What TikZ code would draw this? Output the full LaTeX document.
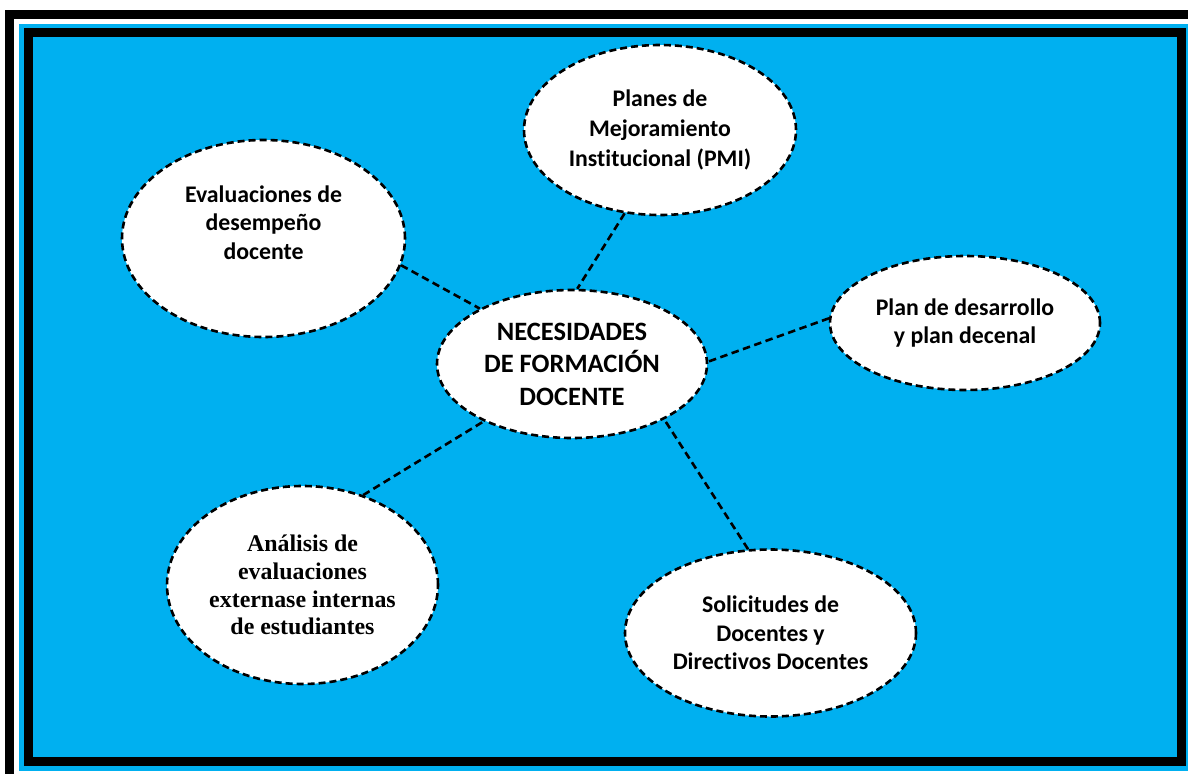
\documentclass[tikz,border=0pt]{standalone}
\usepackage{fontspec}
\setmainfont{Carlito}[Ligatures=NoCommon]
\newfontfamily\timesfont{Liberation Serif}
\usetikzlibrary{shapes.geometric}
\definecolor{skyblue}{HTML}{00B0F0}
\begin{document}
\begin{tikzpicture}[x=1pt,y=-1pt,
  bubble/.style={ellipse, draw=black, fill=white, line width=2.6pt,
    dash pattern=on 7pt off 4pt, inner sep=0pt, align=center,
    font=\bfseries\fontsize{23.8}{28.5}\selectfont},
  link/.style={draw=black, line width=2.6pt, dash pattern=on 7.5pt off 4.5pt}]
\useasboundingbox (0,0) rectangle (1188,774);
\fill[white] (0,0) rectangle (1188,774);
\fill[black] (5,10) rectangle (14,774);
\fill[black] (5,10) rectangle (1188,19);
\fill[skyblue] (19,24) rectangle (1188,771);
\draw[line width=8.5pt] (28.25,32.5) rectangle (1181.5,761.5);

\node[bubble, minimum width=270, minimum height=148,
  font=\bfseries\fontsize{26.5}{32.5}\selectfont] (c) at (572,364)
  {NECESIDADES\\DE FORMACIÓN\\DOCENTE};
\node[bubble, minimum width=283, minimum height=197] (ev) at (263.5,238.5)
  {\begin{tabular}{@{}c@{}}Evaluaciones de\\desempeño\\docente\\[27pt]\end{tabular}};
\node[bubble, minimum width=272, minimum height=170,
  font=\bfseries\fontsize{23.8}{30}\selectfont] (pl) at (660,130)
  {Planes de\\Mejoramiento\\Institucional (PMI)};
\node[bubble, minimum width=270, minimum height=134] (pd) at (965,323)
  {Plan de desarrollo\\y plan decenal};
\node[bubble, minimum width=271, minimum height=198,
  font=\timesfont\bfseries\fontsize{23.9}{27.7}\selectfont] (an) at (302.5,585)
  {Análisis de\\evaluaciones\\externase internas\\de estudiantes};
\node[bubble, minimum width=291, minimum height=167] (sol) at (770.5,633)
  {Solicitudes de\\Docentes y\\Directivos Docentes};

\draw[link] (ev.-11) -- (c.149);
\draw[link] (pl.-113) -- (c.86);
\draw[link] (pd.178) -- (c.1);
\draw[link] (an.56) -- (c.-147);
\draw[link] (sol.105) -- (c.-31);
\end{tikzpicture}
\end{document}
